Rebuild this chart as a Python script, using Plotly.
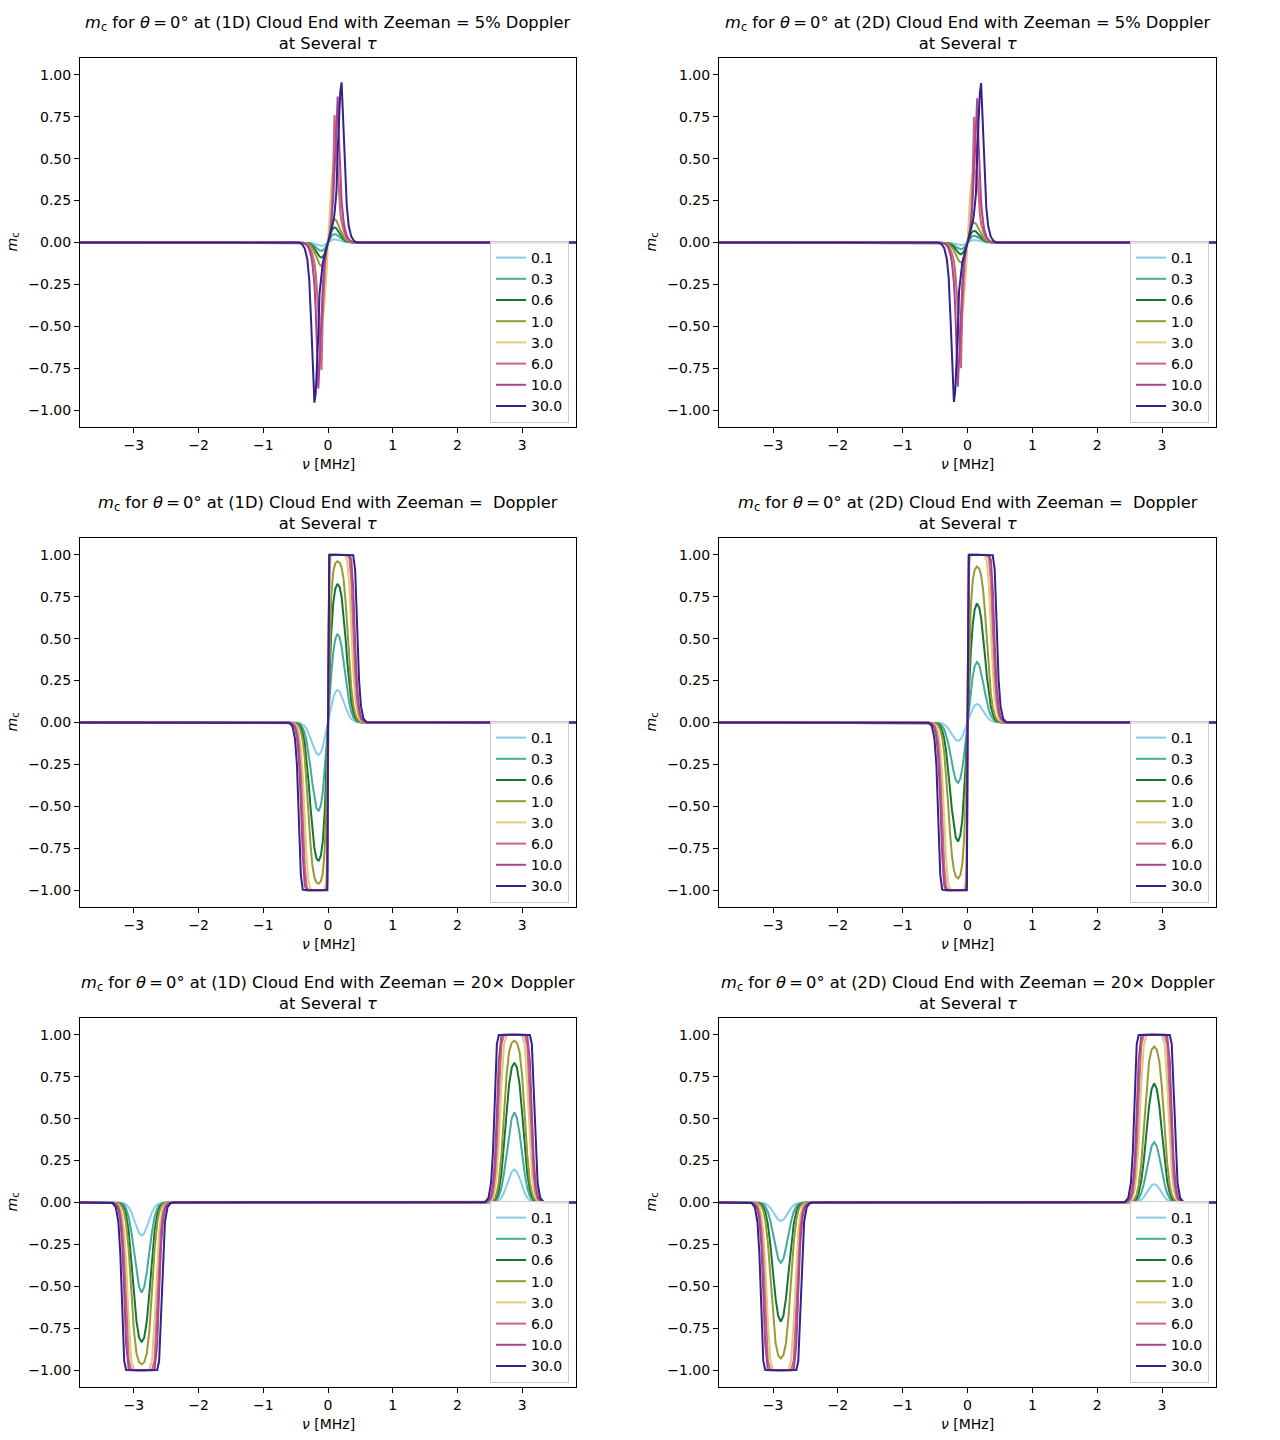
import plotly.graph_objects as go

TAU = ["0.1", "0.3", "0.6", "1.0", "3.0", "6.0", "10.0", "30.0"]
COLORS = ["#88CCEE", "#44AA99", "#117733", "#999933", "#DDCC77", "#CC6677", "#AA4499", "#332288"]
X_TICKS = [-3, -2, -1, 0, 1, 2, 3]
Y_TICKS = [-1.0, -0.75, -0.5, -0.25, 0.0, 0.25, 0.5, 0.75, 1.0]

# ---------------- Row 1: Zeeman = 5% Doppler ----------------
NU_5PCT = [-3.9, -0.5, -0.45, -0.4, -0.36, -0.32, -0.29, -0.26, -0.24, -0.21, -0.19, -0.17, -0.15, -0.13,
           -0.1, -0.08, -0.06, -0.04, -0.02, 0, 0.02, 0.04, 0.06, 0.08, 0.1, 0.13, 0.15, 0.17, 0.19, 0.21,
           0.24, 0.26, 0.29, 0.32, 0.36, 0.4, 0.45, 0.5, 3.9]

MC_1D_5PCT = [
    # 0.1
    [0, 0, 0, 0, 0, -.001, -.002, -.003, -.005, -.008, -.011, -.014, -.016, -.019, -.02, -.019, -.016, -.012, -.006,
     0, .006, .012, .016, .019, .02, .019, .016, .014, .011, .008, .005, .003, .002, .001, 0, 0, 0, 0, 0],
    # 0.3
    [0, 0, 0, 0, -.001, -.002, -.004, -.008, -.012, -.02, -.027, -.034, -.041, -.047, -.05, -.047, -.041, -.03, -.016,
     0, .016, .03, .041, .047, .05, .047, .041, .034, .027, .02, .012, .008, .004, .002, .001, 0, 0, 0, 0],
    # 0.6
    [0, 0, 0, 0, -.001, -.003, -.007, -.014, -.022, -.036, -.048, -.061, -.074, -.084, -.09, -.085, -.073, -.054, -.029,
     0, .029, .054, .073, .085, .09, .084, .074, .061, .048, .036, .022, .014, .007, .003, .001, 0, 0, 0, 0],
    # 1.0
    [0, 0, 0, 0, -.002, -.005, -.011, -.022, -.034, -.057, -.075, -.095, -.115, -.13, -.14, -.133, -.114, -.084, -.044,
     0, .044, .084, .114, .133, .14, .13, .115, .095, .075, .057, .034, .022, .011, .005, .002, 0, 0, 0, 0],
    # 3.0
    [0, 0, 0, 0, -.006, -.02, -.04, -.08, -.12, -.2, -.27, -.33, -.39, -.44, -.47, -.45, -.39, -.3, -.16,
     0, .16, .3, .39, .45, .47, .44, .39, .33, .27, .2, .12, .08, .04, .02, .006, 0, 0, 0, 0],
    # 6.0
    [0, 0, 0, 0, -.004, -.012, -.025, -.05, -.07, -.12, -.18, -.28, -.42, -.58, -.76, -.42, -.2, -.08, -.03,
     0, .03, .08, .2, .42, .76, .58, .42, .28, .18, .12, .07, .05, .025, .012, .004, 0, 0, 0, 0],
    # 10.0
    [0, 0, 0, 0, -.006, -.02, -.04, -.08, -.13, -.25, -.4, -.62, -.87, -.72, -.42, -.26, -.15, -.08, -.03,
     0, .03, .08, .15, .26, .42, .72, .87, .62, .4, .25, .13, .08, .04, .02, .006, 0, 0, 0, 0],
    # 30.0
    [0, 0, 0, -.01, -.035, -.1, -.22, -.48, -.68, -.955, -.9, -.75, -.55, -.3, -.17, -.12, -.09, -.06, -.03,
     0, .03, .06, .09, .12, .17, .3, .55, .75, .9, .955, .68, .48, .22, .1, .035, .01, 0, 0, 0],
]

MC_2D_5PCT = [
    [0, 0, 0, 0, 0, -.001, -.001, -.002, -.004, -.006, -.008, -.01, -.012, -.014, -.015, -.014, -.012, -.009, -.005,
     0, .005, .009, .012, .014, .015, .014, .012, .01, .008, .006, .004, .002, .001, .001, 0, 0, 0, 0, 0],
    [0, 0, 0, 0, 0, -.001, -.003, -.006, -.01, -.016, -.021, -.027, -.033, -.037, -.04, -.038, -.033, -.024, -.013,
     0, .013, .024, .033, .038, .04, .037, .033, .027, .021, .016, .01, .006, .003, .001, 0, 0, 0, 0, 0],
    [0, 0, 0, 0, -.001, -.003, -.006, -.011, -.017, -.028, -.038, -.048, -.057, -.065, -.07, -.066, -.057, -.042, -.022,
     0, .022, .042, .057, .066, .07, .065, .057, .048, .038, .028, .017, .011, .006, .003, .001, 0, 0, 0, 0],
    [0, 0, 0, 0, -.001, -.004, -.01, -.019, -.029, -.048, -.064, -.082, -.098, -.112, -.12, -.114, -.098, -.072, -.038,
     0, .038, .072, .098, .114, .12, .112, .098, .082, .064, .048, .029, .019, .01, .004, .001, 0, 0, 0, 0],
    [0, 0, 0, 0, -.005, -.017, -.038, -.075, -.113, -.19, -.25, -.31, -.365, -.415, -.44, -.42, -.36, -.275, -.15,
     0, .15, .275, .36, .42, .44, .415, .365, .31, .25, .19, .113, .075, .038, .017, .005, 0, 0, 0, 0],
    [0, 0, 0, 0, -.004, -.011, -.022, -.045, -.065, -.11, -.17, -.27, -.41, -.57, -.75, -.4, -.19, -.08, -.03,
     0, .03, .08, .19, .4, .75, .57, .41, .27, .17, .11, .065, .045, .022, .011, .004, 0, 0, 0, 0],
    [0, 0, 0, 0, -.005, -.018, -.037, -.075, -.12, -.24, -.38, -.6, -.86, -.7, -.4, -.25, -.14, -.08, -.03,
     0, .03, .08, .14, .25, .4, .7, .86, .6, .38, .24, .12, .075, .037, .018, .005, 0, 0, 0, 0],
    [0, 0, 0, -.01, -.033, -.095, -.21, -.47, -.67, -.95, -.89, -.74, -.54, -.29, -.17, -.12, -.09, -.06, -.03,
     0, .03, .06, .09, .12, .17, .29, .54, .74, .89, .95, .67, .47, .21, .095, .033, .01, 0, 0, 0],
]

# ---------------- Row 2: Zeeman = Doppler ----------------
NU_1X = [-3.9, -0.6, -0.55, -0.51, -0.48, -0.45, -0.42, -0.39, -0.36, -0.33, -0.3, -0.27, -0.24, -0.21, -0.18,
         -0.145, -0.11, -0.08, -0.05, -0.03, -0.02, -0.01, 0, 0.01, 0.02, 0.03, 0.05, 0.08, 0.11, 0.145, 0.18,
         0.21, 0.24, 0.27, 0.3, 0.33, 0.36, 0.39, 0.42, 0.45, 0.48, 0.51, 0.55, 0.6, 3.9]

MC_1D_1X = [
    [0, 0, 0, 0, -.001, -.002, -.005, -.011, -.021, -.038, -.062, -.093, -.127, -.16, -.184, -.194, -.178, -.145, -.097, -.06, -.041, -.02,
     0, .02, .041, .06, .097, .145, .178, .194, .184, .16, .127, .093, .062, .038, .021, .011, .005, .002, .001, 0, 0, 0, 0],
    [0, 0, 0, -.001, -.003, -.007, -.015, -.032, -.063, -.113, -.183, -.272, -.366, -.45, -.508, -.529, -.494, -.413, -.286, -.179, -.121, -.061,
     0, .061, .121, .179, .286, .413, .494, .529, .508, .45, .366, .272, .183, .113, .063, .032, .015, .007, .003, .001, 0, 0, 0],
    [0, 0, 0, -.002, -.005, -.013, -.03, -.065, -.125, -.223, -.355, -.507, -.646, -.75, -.808, -.827, -.794, -.706, -.529, -.347, -.239, -.121,
     0, .121, .239, .347, .529, .706, .794, .827, .808, .75, .646, .507, .355, .223, .125, .065, .03, .013, .005, .002, 0, 0, 0],
    [0, 0, -.001, -.003, -.009, -.022, -.051, -.108, -.207, -.361, -.55, -.731, -.856, -.924, -.953, -.961, -.947, -.898, -.753, -.54, -.385, -.201,
     0, .201, .385, .54, .753, .898, .947, .961, .953, .924, .856, .731, .55, .361, .207, .108, .051, .022, .009, .003, .001, 0, 0],
    [0, 0, -.002, -.01, -.026, -.065, -.151, -.313, -.558, -.812, -.952, -.993, -.999, -1, -1, -1, -1, -1, -.994, -.948, -.839, -.545,
     0, .545, .839, .948, .994, 1, 1, 1, 1, 1, .999, .993, .952, .812, .558, .313, .151, .065, .026, .01, .002, 0, 0],
    [0, 0, -.004, -.019, -.052, -.13, -.296, -.57, -.851, -.979, -.999, -1, -1, -1, -1, -1, -1, -1, -1, -.999, -.985, -.841,
     0, .841, .985, .999, 1, 1, 1, 1, 1, 1, 1, 1, .999, .979, .851, .57, .296, .13, .052, .019, .004, 0, 0],
    [0, 0, -.007, -.032, -.086, -.215, -.468, -.793, -.97, -.999, -1, -1, -1, -1, -1, -1, -1, -1, -1, -1, -.999, -.967,
     0, .967, .999, 1, 1, 1, 1, 1, 1, 1, 1, 1, 1, .999, .97, .793, .468, .215, .086, .032, .007, 0, 0],
    [0, -.002, -.021, -.096, -.252, -.574, -.909, -.997, -1, -1, -1, -1, -1, -1, -1, -1, -1, -1, -1, -1, -1, -1,
     0, 1, 1, 1, 1, 1, 1, 1, 1, 1, 1, 1, 1, 1, 1, .997, .909, .574, .252, .096, .021, .002, 0],
]

MC_2D_1X_LOW = [
    [0, 0, 0, 0, 0, -.001, -.003, -.006, -.012, -.021, -.035, -.052, -.072, -.091, -.105, -.11, -.101, -.082, -.055, -.034, -.023, -.011,
     0, .011, .023, .034, .055, .082, .101, .11, .105, .091, .072, .052, .035, .021, .012, .006, .003, .001, 0, 0, 0, 0, 0],
    [0, 0, 0, -.001, -.002, -.004, -.01, -.021, -.04, -.073, -.118, -.177, -.241, -.3, -.344, -.36, -.333, -.274, -.186, -.115, -.078, -.039,
     0, .039, .078, .115, .186, .274, .333, .36, .344, .3, .241, .177, .118, .073, .04, .021, .01, .004, .002, .001, 0, 0, 0],
    [0, 0, 0, -.001, -.004, -.01, -.023, -.049, -.095, -.169, -.272, -.397, -.521, -.623, -.687, -.71, -.672, -.579, -.415, -.266, -.181, -.092,
     0, .092, .181, .266, .415, .579, .672, .71, .687, .623, .521, .397, .272, .169, .095, .049, .023, .01, .004, .001, 0, 0, 0],
    [0, 0, -.001, -.003, -.007, -.018, -.043, -.091, -.175, -.309, -.479, -.656, -.794, -.878, -.918, -.93, -.909, -.845, -.679, -.47, -.33, -.17,
     0, .17, .33, .47, .679, .845, .909, .93, .918, .878, .794, .656, .479, .309, .175, .091, .043, .018, .007, .003, .001, 0, 0],
]
MC_2D_1X = MC_2D_1X_LOW + MC_1D_1X[4:]

# ---------------- Row 3: Zeeman = 20x Doppler ----------------
NU_20X = [-3.9, -3.38, -3.33, -3.28, -3.24, -3.21, -3.18, -3.15, -3.12, -3.08, -3.04, -3.0, -2.96, -2.92, -2.88,
          -2.84, -2.8, -2.76, -2.72, -2.68, -2.64, -2.61, -2.58, -2.55, -2.52, -2.48, -2.43, -2.38,
          2.38, 2.43, 2.48, 2.52, 2.55, 2.58, 2.61, 2.64, 2.68, 2.72, 2.76, 2.8, 2.84, 2.88, 2.92, 2.96, 3.0,
          3.04, 3.08, 3.12, 3.15, 3.18, 3.21, 3.24, 3.28, 3.33, 3.38, 3.9]

MC_1D_20X = [
    [0, 0, 0, 0, 0, -.001, -.003, -.006, -.012, -.029, -.058, -.1, -.146, -.183, -.197, -.183, -.146, -.1, -.058, -.029, -.012, -.006, -.003, -.001, 0, 0, 0, 0,
     0, 0, 0, 0, .001, .003, .006, .012, .029, .058, .1, .146, .183, .197, .183, .146, .1, .058, .029, .012, .006, .003, .001, 0, 0, 0, 0, 0],
    [0, 0, 0, 0, -.001, -.003, -.008, -.018, -.037, -.087, -.173, -.291, -.414, -.504, -.537, -.504, -.414, -.291, -.173, -.087, -.037, -.018, -.008, -.003, -.001, 0, 0, 0,
     0, 0, 0, .001, .003, .008, .018, .037, .087, .173, .291, .414, .504, .537, .504, .414, .291, .173, .087, .037, .018, .008, .003, .001, 0, 0, 0, 0],
    [0, 0, 0, -.001, -.002, -.006, -.016, -.036, -.075, -.172, -.336, -.536, -.707, -.805, -.834, -.805, -.707, -.536, -.336, -.172, -.075, -.036, -.016, -.006, -.002, -.001, 0, 0,
     0, 0, .001, .002, .006, .016, .036, .075, .172, .336, .536, .707, .805, .834, .805, .707, .536, .336, .172, .075, .036, .016, .006, .002, .001, 0, 0, 0],
    [0, 0, 0, -.001, -.004, -.01, -.026, -.059, -.123, -.283, -.524, -.761, -.899, -.952, -.964, -.952, -.899, -.761, -.524, -.283, -.123, -.059, -.026, -.01, -.004, -.001, 0, 0,
     0, 0, .001, .004, .01, .026, .059, .123, .283, .524, .761, .899, .952, .964, .952, .899, .761, .524, .283, .123, .059, .026, .01, .004, .001, 0, 0, 0],
    [0, 0, 0, -.003, -.012, -.031, -.078, -.176, -.357, -.702, -.941, -.995, -1, -1, -1, -1, -1, -.995, -.941, -.702, -.357, -.176, -.078, -.031, -.012, -.003, 0, 0,
     0, 0, .003, .012, .031, .078, .176, .357, .702, .941, .995, 1, 1, 1, 1, 1, .995, .941, .702, .357, .176, .078, .031, .012, .003, 0, 0, 0],
    [0, 0, -.001, -.005, -.023, -.063, -.155, -.342, -.633, -.941, -.998, -1, -1, -1, -1, -1, -1, -1, -.998, -.941, -.633, -.342, -.155, -.063, -.023, -.005, -.001, 0,
     0, .001, .005, .023, .063, .155, .342, .633, .941, .998, 1, 1, 1, 1, 1, 1, 1, .998, .941, .633, .342, .155, .063, .023, .005, .001, 0, 0],
    [0, 0, -.001, -.009, -.039, -.105, -.254, -.533, -.846, -.994, -1, -1, -1, -1, -1, -1, -1, -1, -1, -.994, -.846, -.533, -.254, -.105, -.039, -.009, -.001, 0,
     0, .001, .009, .039, .105, .254, .533, .846, .994, 1, 1, 1, 1, 1, 1, 1, 1, 1, .994, .846, .533, .254, .105, .039, .009, .001, 0, 0],
    [0, 0, -.003, -.027, -.116, -.304, -.653, -.945, -.999, -1, -1, -1, -1, -1, -1, -1, -1, -1, -1, -1, -.999, -.945, -.653, -.304, -.116, -.027, -.003, 0,
     0, .003, .027, .116, .304, .653, .945, .999, 1, 1, 1, 1, 1, 1, 1, 1, 1, 1, 1, .999, .945, .653, .304, .116, .027, .003, 0, 0],
]

MC_2D_20X_LOW = [
    [0, 0, 0, 0, 0, -.001, -.001, -.003, -.007, -.016, -.032, -.055, -.081, -.102, -.11, -.102, -.081, -.055, -.032, -.016, -.007, -.003, -.001, -.001, 0, 0, 0, 0,
     0, 0, 0, 0, .001, .001, .003, .007, .016, .032, .055, .081, .102, .11, .102, .081, .055, .032, .016, .007, .003, .001, .001, 0, 0, 0, 0, 0],
    [0, 0, 0, 0, -.001, -.002, -.005, -.011, -.023, -.055, -.11, -.186, -.27, -.336, -.36, -.336, -.27, -.186, -.11, -.055, -.023, -.011, -.005, -.002, -.001, 0, 0, 0,
     0, 0, 0, .001, .002, .005, .011, .023, .055, .11, .186, .27, .336, .36, .336, .27, .186, .11, .055, .023, .011, .005, .002, .001, 0, 0, 0, 0],
    [0, 0, 0, 0, -.002, -.005, -.012, -.026, -.055, -.128, -.252, -.416, -.572, -.676, -.71, -.676, -.572, -.416, -.252, -.128, -.055, -.026, -.012, -.005, -.002, 0, 0, 0,
     0, 0, 0, .002, .005, .012, .026, .055, .128, .252, .416, .572, .676, .71, .676, .572, .416, .252, .128, .055, .026, .012, .005, .002, 0, 0, 0, 0],
    [0, 0, 0, -.001, -.003, -.009, -.022, -.049, -.103, -.236, -.448, -.679, -.839, -.911, -.93, -.911, -.839, -.679, -.448, -.236, -.103, -.049, -.022, -.009, -.003, -.001, 0, 0,
     0, 0, .001, .003, .009, .022, .049, .103, .236, .448, .679, .839, .911, .93, .911, .839, .679, .448, .236, .103, .049, .022, .009, .003, .001, 0, 0, 0],
]
MC_2D_20X = MC_2D_20X_LOW + MC_1D_20X[4:]

DIM = ["1D", "2D"]
ZEEMAN = ["5% Doppler", "\u00a0Doppler", "20× Doppler"]

PANELS = [
    (NU_5PCT, MC_1D_5PCT), (NU_5PCT, MC_2D_5PCT),
    (NU_1X, MC_1D_1X), (NU_1X, MC_2D_1X),
    (NU_20X, MC_1D_20X), (NU_20X, MC_2D_20X),
]

for nu, curves in PANELS:
    for c in curves:
        assert len(c) == len(nu), (len(c), len(nu))

W, H = 1280, 1440
COL_PX = [(80, 576), (719, 1216)]
ROW_PX = [(58, 427), (538, 907), (1018, 1387)]
FONT = "DejaVu Sans"

fig = go.Figure()
layout = dict(width=W, height=H, margin=dict(l=0, r=0, t=0, b=0),
              paper_bgcolor="white", plot_bgcolor="white",
              font=dict(family=FONT, size=14, color="black"), showlegend=True)
annotations = []

for i, (nu, curves) in enumerate(PANELS):
    r, c = divmod(i, 2)
    n = i + 1
    xs = "" if n == 1 else str(n)
    lg = "legend" if n == 1 else f"legend{n}"
    x0, x1 = COL_PX[c]
    y0, y1 = ROW_PX[r]
    for k, yv in enumerate(curves):
        fig.add_trace(go.Scatter(x=nu, y=yv, mode="lines", name=TAU[k],
                                 line=dict(color=COLORS[k], width=2),
                                 xaxis="x" + xs, yaxis="y" + xs, legend=lg))
    axis_common = dict(showline=True, mirror=True, linecolor="black", linewidth=1,
                       ticks="outside", ticklen=5, tickwidth=1, tickcolor="black",
                       showgrid=False, zeroline=False,
                       tickfont=dict(family=FONT, size=14, color="black"))
    layout["xaxis" + xs] = dict(domain=[x0 / W, x1 / W], anchor="y" + xs, range=[-3.833, 3.833],
                                tickvals=X_TICKS, **axis_common)
    layout["yaxis" + xs] = dict(domain=[1 - y1 / H, 1 - y0 / H], anchor="x" + xs, range=[-1.1, 1.1],
                                tickvals=Y_TICKS, tickformat=".2f", **axis_common)
    layout[lg] = dict(x=(x1 - 7) / W, y=1 - (y1 - 4) / H, xanchor="right", yanchor="bottom",
                      bgcolor="rgba(255,255,255,0.85)", bordercolor="#cccccc", borderwidth=1,
                      font=dict(family=FONT, size=14, color="black"), itemwidth=30)
    cx = (x0 + x1) / 2 / W
    title = (f"<i>m</i><sub>c</sub> for <i>θ</i>\u2009=\u20090° at ({DIM[c]}) Cloud End with Zeeman = {ZEEMAN[r]}"
             f"<br>at Several <i>τ</i>")
    annotations.append(dict(text=title, x=cx, y=1 - (y0 - 3) / H, xref="paper", yref="paper",
                            xanchor="center", yanchor="bottom", showarrow=False,
                            font=dict(family=FONT, size=16.3, color="black")))
    annotations.append(dict(text="<i>ν</i> [MHz]", x=cx, y=1 - (y1 + 37) / H, xref="paper", yref="paper",
                            xanchor="center", yanchor="middle", showarrow=False,
                            font=dict(family=FONT, size=14, color="black")))
    annotations.append(dict(text="<i>m</i><sub>c</sub>", x=(x0 - 68) / W, y=1 - (y0 + y1) / 2 / H,
                            xref="paper", yref="paper", xanchor="center", yanchor="middle",
                            textangle=-90, showarrow=False,
                            font=dict(family=FONT, size=14, color="black")))

layout["annotations"] = annotations
fig.update_layout(**layout)
fig.write_html("out.html", config={"displayModeBar": False},
               post_script="document.body.style.margin='0px';")
